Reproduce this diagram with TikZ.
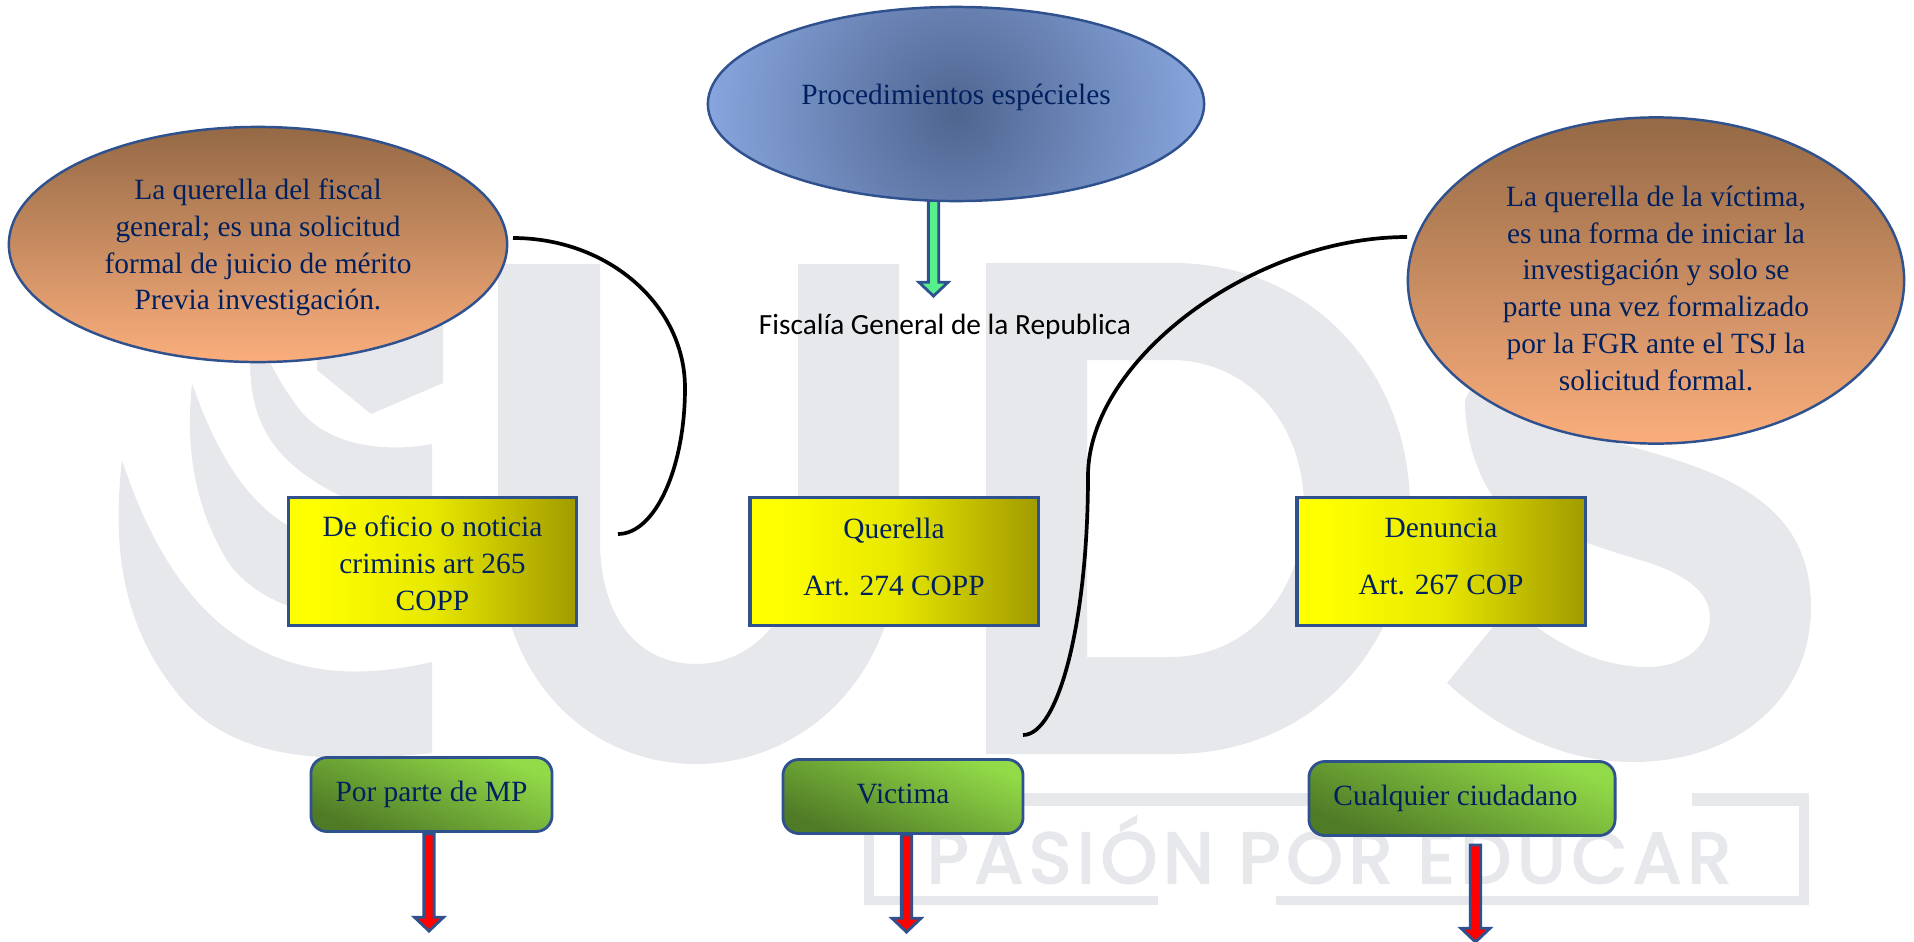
\documentclass[tikz,border=0pt]{standalone}
\usepackage{fontspec}
\setmainfont{Liberation Serif}
\newfontfamily\calibrifont{Carlito}
\newfontfamily\wmfont[LetterSpace=8.4,FakeBold=3]{Poppins}
\usetikzlibrary{shapes.geometric,shapes.arrows}
\definecolor{wmgray}{HTML}{E7E8EC}
\definecolor{edgeblue}{HTML}{2F528F}
\definecolor{textblue}{HTML}{002060}
\pgfdeclarehorizontalshading{yellowfade}{100bp}{rgb(0bp)=(1,1,0); rgb(25bp)=(1,1,0); rgb(30bp)=(1,1,0); rgb(50bp)=(0.91,0.91,0); rgb(67bp)=(0.72,0.70,0); rgb(75bp)=(0.63,0.61,0); rgb(100bp)=(0.63,0.61,0)}

\begin{document}
\begin{tikzpicture}[x=0.01cm,y=-0.01cm,
bubble/.style={ellipse, draw=edgeblue, line width=0.7pt, inner sep=0pt, align=center,
    text=textblue, font=\fontsize{8.36}{10.44}\selectfont,
    top color=orangetop, bottom color=orangebot},
bluebubble/.style={ellipse, draw=edgeblue, line width=0.7pt, inner sep=0pt, text=textblue,
    font=\fontsize{8.36}{10.44}\selectfont,
    path picture={\shade[inner color=bluein, outer color=blueout]
      ([yshift=-0.09cm]path picture bounding box.center) circle (2.5cm);}},
yellowbox/.style={rectangle, draw=edgeblue, line width=0.9pt, inner sep=0pt, align=center,
    minimum width=2.88cm, minimum height=1.28cm, text=textblue,
    font=\fontsize{8.36}{10.44}\selectfont, shade, shading=yellowfade},
greenbox/.style={rectangle, rounded corners=0.16cm, draw=edgeblue, line width=0.8pt, inner sep=0pt,
    minimum height=0.74cm, text=textblue, font=\fontsize{8.36}{10.44}\selectfont,
    text height=0.19cm, text depth=0.05cm,
    top color=greenlight, bottom color=greendark, shading angle=-23},
blockarrow/.style={single arrow, anchor=tail, shape border rotate=270, draw=edgeblue, line width=0.8pt,
    single arrow head indent=0pt, single arrow tip angle=93, single arrow head extend=0.08cm,
    minimum width=0.29cm, inner sep=0.03cm, outer sep=0pt},
curveline/.style={line width=1.05pt, black},
]
  \definecolor{orangetop}{HTML}{946945}
  \definecolor{orangebot}{HTML}{FBAE7C}
  \definecolor{bluein}{HTML}{4F6590}
  \definecolor{blueout}{HTML}{88A6DE}
  \definecolor{greenlight}{HTML}{92DA48}
  \definecolor{greendark}{HTML}{4F7A26}
  \definecolor{mint}{HTML}{58F08C}

  \useasboundingbox (0,0) rectangle (1914,942);

  % watermark

  %% C
  \fill[wmgray] (122,460) .. controls (113,540) and (118,625) .. (183,700)
     .. controls (235,758) and (320,765) .. (432,753) -- (432,662)
     .. controls (370,676) and (300,680) .. (235,635) .. controls (180,597) and (145,530) .. (122,460) -- cycle;
  \fill[wmgray] (192,383) .. controls (185,450) and (195,510) .. (230,565)
     .. controls (270,615) and (340,625) .. (432,617) -- (432,510)
     .. controls (370,530) and (320,540) .. (287,525) .. controls (245,500) and (215,450) .. (192,383) -- cycle;
  \fill[wmgray] (253,320) .. controls (243,400) and (255,455) .. (343,497) -- (432,510) -- (432,444)
     .. controls (390,452) and (330,448) .. (300,410) .. controls (280,385) and (262,350) .. (253,320) -- cycle;
  \fill[wmgray] (317,264) -- (443,264) -- (443,383) -- (371,414) -- (317,370) -- cycle;

  %% U
  \fill[wmgray] (498,264) -- (498,540) .. controls (498,680) and (590,764) .. (696,764)
     .. controls (800,764) and (899,680) .. (899,540) -- (899,264) -- (798,264) -- (798,540)
     .. controls (798,620) and (750,664) .. (696,664) .. controls (640,664) and (600,620) .. (600,540)
     -- (600,264) -- cycle;

  %% D
  \fill[wmgray, even odd rule] (986,263) -- (1173,263) .. controls (1310,263) and (1410,370) .. (1410,508)
     .. controls (1410,650) and (1310,754) .. (1173,754) -- (986,754) -- cycle
     (1087,360) -- (1170,360) .. controls (1250,360) and (1304,425) .. (1304,508)
     .. controls (1304,590) and (1250,657) .. (1170,657) -- (1087,657) -- cycle;

  %% S
  \fill[wmgray] (1617,443) .. controls (1720,470) and (1811,500) .. (1811,607)
     .. controls (1811,700) and (1735,762) .. (1633,762) .. controls (1560,762) and (1495,727) .. (1447,683)
     -- (1510,606) .. controls (1555,645) and (1600,667) .. (1647,667)
     .. controls (1685,667) and (1710,645) .. (1710,617) .. controls (1710,590) and (1680,573) .. (1650,563)
     .. controls (1600,548) and (1540,530) .. (1493,497) .. controls (1475,470) and (1465,435) .. (1465,400)
     -- (1500,330) -- (1617,400) -- cycle;

  %% frame and motto
  \fill[wmgray] (864,793) rectangle (1450,806);
  \fill[wmgray] (1692,793) rectangle (1809,806);
  \fill[wmgray] (864,793) rectangle (874,905);
  \fill[wmgray] (1799,793) rectangle (1809,905);
  \fill[wmgray] (864,896) rectangle (1158,905);
  \fill[wmgray] (1276,896) rectangle (1809,905);
  \node[text=wmgray, inner sep=0pt, font=\wmfont\fontsize{20.4}{24}\selectfont] (motto) at (1329,850) {PASIÓN POR EDUCAR};

  % block arrows

  \node[blockarrow, fill=mint, minimum height=0.97cm] (downfiscalia) at (933.5,199) {};
  \foreach \name/\cx/\cy in {downmp/429/834, downvictima/906.5/835, downciudadano/1475.5/845}
    \node[blockarrow, fill=red, minimum height=0.97cm] (\name) at (\cx,\cy) {};

  % bubbles

  \node[bluebubble, minimum width=4.96cm, minimum height=1.94cm, text depth=0.2cm] (procedimientos) at (956,104) {Procedimientos espécieles};
  \node[bubble, minimum width=4.98cm, minimum height=2.35cm] (qfiscal) at (258,244.5) {\rule{0pt}{0.27cm}La querella del fiscal\\general; es una solicitud\\formal de juicio de mérito\\Previa investigación.};
  \node[bubble, minimum width=4.96cm, minimum height=3.26cm] (qvictima) at (1656,280.5) {\rule{0pt}{0.36cm}La querella de la víctima,\\es una forma de iniciar la\\investigación y solo se\\parte una vez formalizado\\por la FGR ante el TSJ la\\solicitud formal.};

  \node[font=\calibrifont\fontsize{8.34}{10}\selectfont, inner sep=0pt] (fiscalia) at (945,327) {Fiscalía General de la Republica};

  % middle row

  \node[yellowbox] (oficio) at (432.5,561.5) {\rule{0pt}{0.24cm}De oficio o noticia\\criminis art 265\\COPP};
  \node[yellowbox] (querella) at (894,561.5) {Querella\\[5.8pt]Art. 274 COPP\rule[-0.1cm]{0pt}{0.1cm}};
  \node[yellowbox] (denuncia) at (1441,561.5) {Denuncia\\[5.8pt]Art. 267 COP\rule[-0.1cm]{0pt}{0.1cm}};

  % bottom row

  \node[greenbox, minimum width=2.41cm] (mp) at (431.5,794.5) {Por parte de MP};
  \node[greenbox, minimum width=2.40cm] (victima) at (903,796.5) {Victima};
  \node[greenbox, minimum width=3.06cm] (ciudadano) at (1462,798.5) {Cualquier ciudadano\hspace*{0.13cm}};

  % curves

  \coordinate (curvafiscal) at (513,238);
  \coordinate (curvaoficio) at (618,534);
  \coordinate (curvavictima) at (1407,237);
  \coordinate (curvaq) at (1023,735);
  \draw[curveline] (curvafiscal) to [out=0, in=90, out distance=0.95cm, in distance=0.83cm] (685,388)
                        to [out=-90, in=0, out distance=0.80cm, in distance=0.37cm] (curvaoficio);
  \draw[curveline] (curvavictima) to [out=180, in=90, out distance=1.55cm, in distance=1.15cm] (1088,476)
                        to [out=-90, in=0, out distance=1.43cm, in distance=0.36cm] (curvaq);

\end{tikzpicture}
\end{document}
